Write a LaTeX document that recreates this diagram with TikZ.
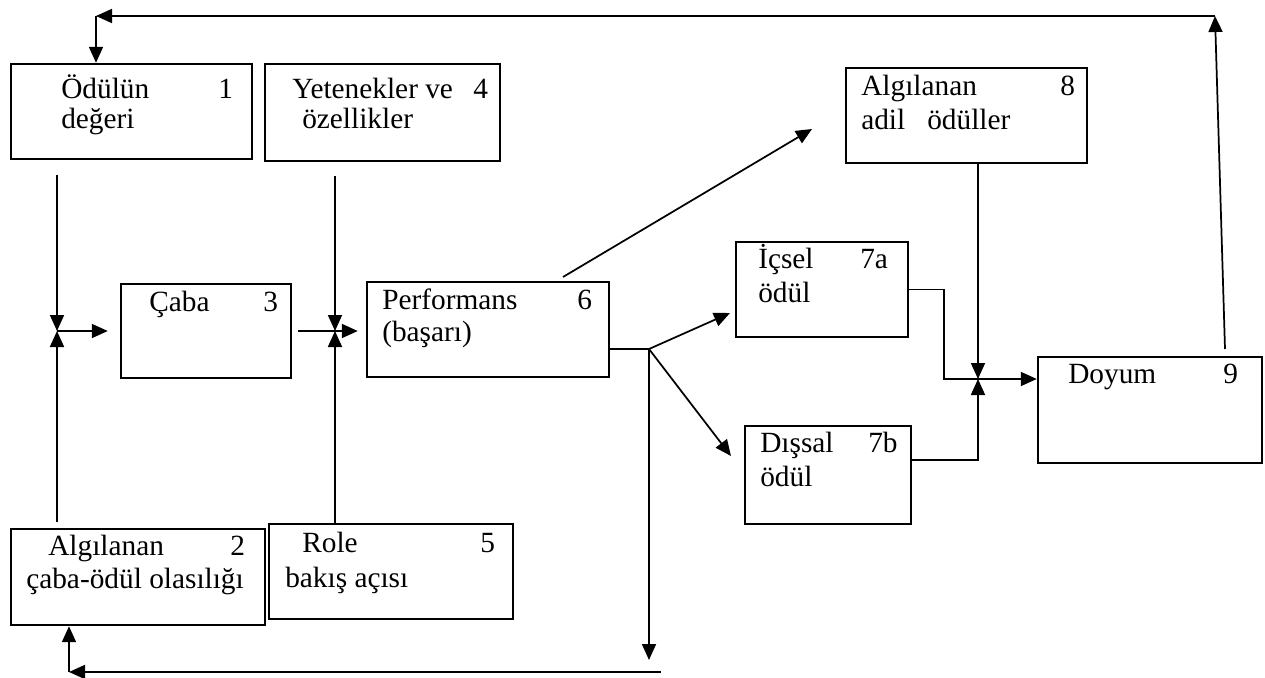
\documentclass[tikz,border=0pt]{standalone}
\usepackage{fontspec}
\setmainfont{Liberation Serif}
\usetikzlibrary{arrows.meta,fit}

\begin{document}
\begin{tikzpicture}[x=0.75pt,y=-0.75pt,
  box/.style={draw,line width=1.8pt,inner sep=0pt,rectangle},
  txt/.style={inner sep=0pt,anchor=base west,font=\fontsize{22}{26}\selectfont},
  conn/.style={line width=1.3pt},
  arr/.style={conn,-{Triangle[length=12pt,width=10.5pt]}}]
\useasboundingbox (0,0) rectangle (1265,678);

% boxes
\node[box,fit={(11,64) (252,159)}]   (b1)  {};
\node[box,fit={(11,529) (265,625)}]  (b2)  {};
\node[box,fit={(121,284) (291,378)}] (b3)  {};
\node[box,fit={(265,64) (500,161)}]  (b4)  {};
\node[box,fit={(269,524) (513,619)}] (b5)  {};
\node[box,fit={(367,282) (609,377)}] (b6)  {};
\node[box,fit={(736,242) (908,337)}] (b7a) {};
\node[box,fit={(745,426) (911,524)}] (b7b) {};
\node[box,fit={(846,68) (1087,163)}] (b8)  {};
\node[box,fit={(1038,357) (1262,463)}] (b9) {};

% box texts
\node[txt] (t1a) at (61,98)   {Ödülün};
\node[txt] (t1n) at (218,98)  {1};
\node[txt] (t1b) at (61,128)  {değeri};

\node[txt] (t4a) at (292,98)  {Yetenekler ve};
\node[txt] (t4n) at (473,98)  {4};
\node[txt] (t4b) at (302,128) {özellikler};

\node[txt] (t8a) at (861,95)  {Algılanan};
\node[txt] (t8n) at (1060,95) {8};
\node[txt] (t8b) at (861,129) {adil\ \ \ ödüller};

\node[txt] (t3a) at (149,311) {Çaba};
\node[txt] (t3n) at (263,311) {3};

\node[txt] (t6a) at (382,309) {Performans};
\node[txt] (t6n) at (577,309) {6};
\node[txt] (t6b) at (382,341) {(başarı)};

\node[txt] (t7aa) at (758,268) {İçsel};
\node[txt] (t7an) at (860,268) {7a};
\node[txt] (t7ab) at (758,302) {ödül};

\node[txt] (t7ba) at (760,452) {Dışsal};
\node[txt] (t7bn) at (868,452) {7b};
\node[txt] (t7bb) at (760,486) {ödül};

\node[txt] (t9a) at (1068,383) {Doyum};
\node[txt] (t9n) at (1223,383) {9};

\node[txt] (t2a) at (48,555)  {Algılanan};
\node[txt] (t2n) at (230,555) {2};
\node[txt] (t2b) at (26,588)  {çaba-ödül olasılığı};

\node[txt] (t5a) at (302,552) {Role};
\node[txt] (t5n) at (480,552) {5};
\node[txt] (t5b) at (285,587) {bakış açısı};

% junctions and corners
\coordinate (j1) at (57,331);
\coordinate (j2) at (335,331);
\coordinate (j3) at (649,349);
\coordinate (j4) at (978,379);
\coordinate (k7a) at (944,379);
\coordinate (k7b) at (978,460);
\coordinate (tr) at (1215,16);
\coordinate (tl) at (96,16);
\coordinate (up9) at (1225,349);
\coordinate (p7a) at (730,313);
\coordinate (p7b) at (731,456);
\coordinate (s6) at (563,277);
\coordinate (p8) at (812,129);
\coordinate (bd) at (649,660);
\coordinate (br) at (661,672);
\coordinate (bl) at (69,672);

% inputs to effort
\draw[arr,shorten <=11pt] (b1.south -| j1) -- (j1);
\draw[arr,shorten <=4.5pt] (b2.north -| j1) -- (j1);
\draw[arr,shorten >=9pt] (j1) -- (b3.west |- j1);

% inputs to performance
\draw[arr,shorten <=10pt] (b4.south -| j2) -- (j2);
\draw[arr] (b5.north -| j2) -- (j2);
\draw[arr,shorten <=4.5pt,shorten >=6pt] (b3.east |- j2) -- (b6.west |- j2);

% performance to rewards
\draw[conn] (b6.east |- j3) -- (j3);
\draw[arr] (j3) -- (p7a);
\draw[arr] (j3) -- (p7b);
\draw[arr] (s6) -- (p8);

% feedback to perceived probability
\draw[arr] (j3) -- (bd);
\draw[arr] (br) -- (bl);
\draw[arr] (bl) -- (b2.south -| bl);

% rewards to satisfaction
\draw[arr] (b8.south -| j4) -- (j4);
\draw[conn] (b7a.east) -| (k7a) -- (j4);
\draw[arr] (j4) -- (b9.west |- j4);
\draw[arr] (b7b.east |- k7b) -- (k7b) -- (j4);

% feedback to reward value
\draw[arr] (up9) -- (tr);
\draw[arr] (tr) -- (tl);
\draw[arr] (tl) -- (b1.north -| tl);
\end{tikzpicture}
\end{document}
